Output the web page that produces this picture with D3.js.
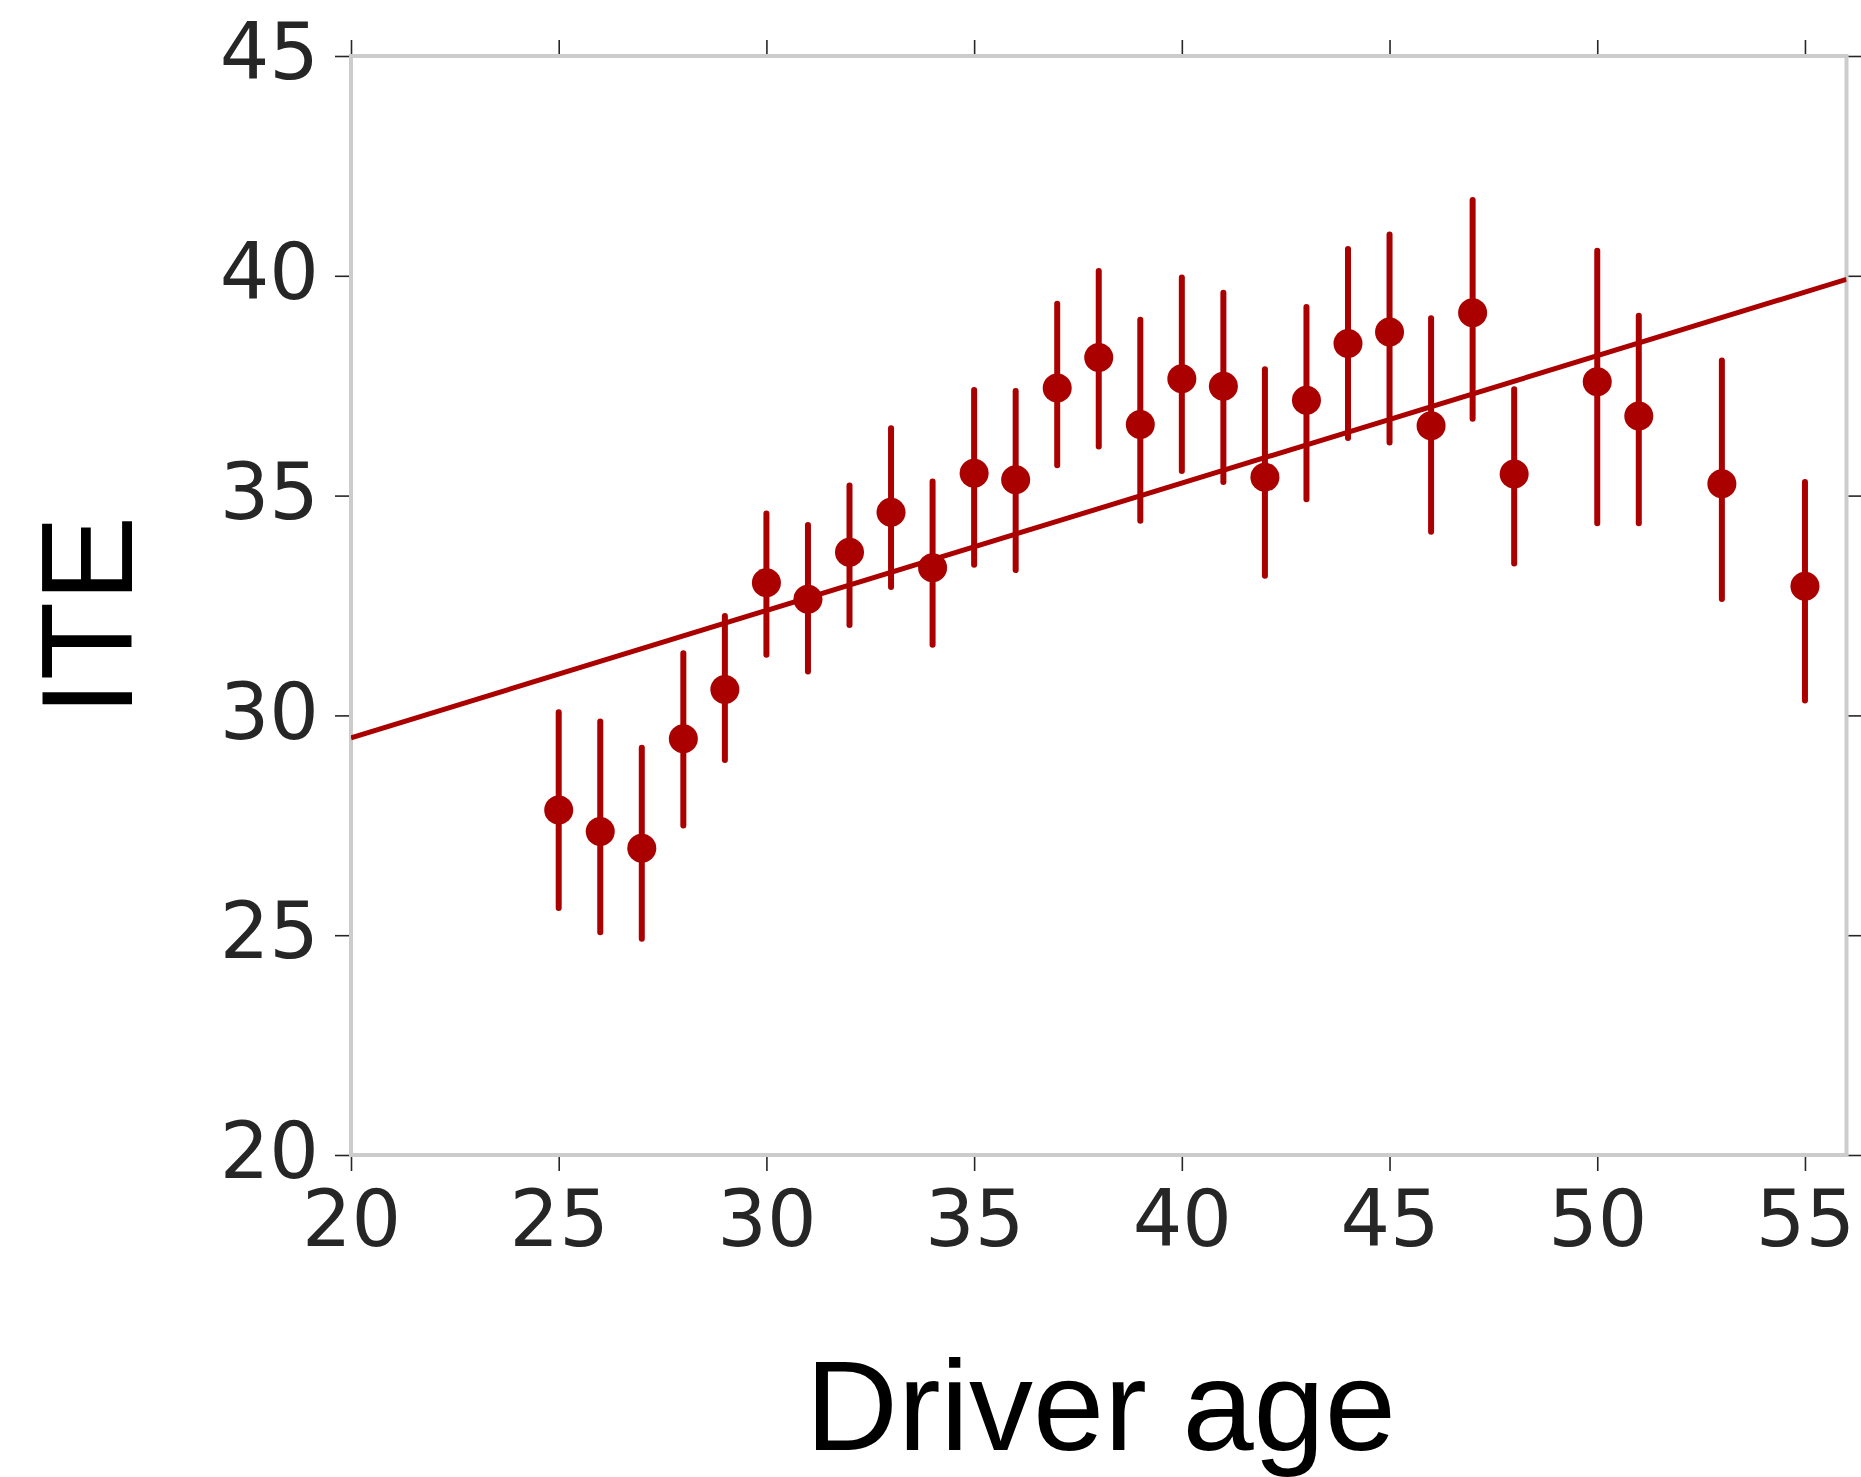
<!DOCTYPE html>
<html>
<head>
<meta charset="utf-8">
<script src="https://cdn.jsdelivr.net/npm/d3@7"></script>
<style>
  html, body { margin: 0; padding: 0; background: #ffffff; }
  svg { display: block; }
</style>
</head>
<body>
<svg id="chart" width="1861" height="1477"></svg>
<script>
// ---- data ----
const ages  = [25, 26, 27, 28, 29, 30, 31, 32, 33, 34, 35, 36, 37, 38, 39, 40, 41, 42, 43, 44, 45, 46, 47, 48, 50, 51, 53, 55];
const ite   = [27.85, 27.36, 26.98, 29.47, 30.59, 33.02, 32.64, 33.71, 34.62, 33.36, 35.51, 35.36, 37.45, 38.14, 36.62, 37.66, 37.49, 35.42, 37.17, 38.46, 38.72, 36.59, 39.16, 35.49, 37.59, 36.81, 35.27, 32.94];
const lower = [25.55, 25.00, 24.85, 27.43, 28.92, 31.31, 30.93, 31.99, 32.85, 31.54, 33.36, 33.24, 35.62, 36.05, 34.36, 35.49, 35.24, 33.11, 34.85, 36.24, 36.14, 34.11, 36.68, 33.39, 34.30, 34.30, 32.58, 30.27];
const upper = [30.14, 29.93, 29.33, 31.48, 32.33, 34.66, 34.40, 35.30, 36.60, 35.39, 37.47, 37.45, 39.43, 40.18, 39.07, 40.03, 39.68, 37.94, 39.36, 40.68, 41.01, 39.10, 41.79, 37.49, 40.64, 39.16, 38.14, 35.38];
const fitX  = [20, 56];
const fitY  = [29.49, 39.92];
const xTicks = [20, 25, 30, 35, 40, 45, 50, 55];
const yTicks = [20, 25, 30, 35, 40, 45];
const xLabel = "Driver age";
const yLabel = "ITE";

(function () {
  // ---- layout ----
  const pL = 351, pR = 1846.5, pT = 56, pB = 1155;
  const red = "#aa0000";
  const tickColor = "#262626";

  const svg = d3.select("#chart");

  const x = d3.scaleLinear().domain([20, 56]).range([pL, pR]);
  const y = d3.scaleLinear().domain([20, 45]).range([pB, pT]);

  svg.append("defs").append("clipPath").attr("id", "plotclip")
    .append("rect").attr("x", pL).attr("y", pT)
    .attr("width", pR - pL).attr("height", pB - pT);

  // frame
  svg.append("rect")
    .attr("x", pL).attr("y", pT)
    .attr("width", pR - pL).attr("height", pB - pT)
    .attr("fill", "none").attr("stroke", "#cccccc").attr("stroke-width", 4);

  function styleAxis(g) {
    g.select(".domain").remove();
    g.selectAll(".tick line").attr("stroke", tickColor).attr("stroke-width", 1.6);
    g.selectAll(".tick text")
      .attr("fill", tickColor)
      .style("font-family", "'DejaVu Sans', sans-serif")
      .style("font-size", "78px");
  }

  svg.append("g")
    .attr("transform", `translate(0,${pB + 2})`)
    .call(d3.axisBottom(x).tickValues(xTicks).tickSize(14).tickPadding(20).tickFormat(d3.format("d")))
    .call(styleAxis);

  svg.append("g")
    .attr("transform", `translate(0,${pT - 2})`)
    .call(d3.axisTop(x).tickValues(xTicks).tickSize(14).tickFormat(""))
    .call(styleAxis);

  const gl = svg.append("g")
    .attr("transform", `translate(${pL - 2},0)`)
    .call(d3.axisLeft(y).tickValues(yTicks).tickSize(14).tickPadding(16).tickFormat(d3.format("d")))
    .call(styleAxis);
  gl.selectAll(".tick text").attr("dy", "0.29em");

  svg.append("g")
    .attr("transform", `translate(${pR + 2},0)`)
    .call(d3.axisRight(y).tickValues(yTicks).tickSize(14).tickFormat(""))
    .call(styleAxis);

  const plot = svg.append("g").attr("clip-path", "url(#plotclip)");

  // regression line
  const line = d3.line().x(d => x(d[0])).y(d => y(d[1]));
  plot.append("path")
    .datum(fitX.map((v, i) => [v, fitY[i]]))
    .attr("d", line)
    .attr("fill", "none")
    .attr("stroke", red)
    .attr("stroke-width", 5);

  const pts = ages.map((a, i) => ({ age: a, v: ite[i], lo: lower[i], hi: upper[i] }));

  // error bars
  plot.selectAll("line.err")
    .data(pts).enter().append("line")
    .attr("class", "err")
    .attr("x1", d => x(d.age)).attr("x2", d => x(d.age))
    .attr("y1", d => y(d.lo) - 3).attr("y2", d => y(d.hi) + 3)
    .attr("stroke", red)
    .attr("stroke-width", 6)
    .attr("stroke-linecap", "round");

  // markers
  plot.selectAll("circle.pt")
    .data(pts).enter().append("circle")
    .attr("class", "pt")
    .attr("cx", d => x(d.age)).attr("cy", d => y(d.v))
    .attr("r", 14.5)
    .attr("fill", red);

  // axis titles
  svg.append("text")
    .attr("x", (pL + pR) / 2 + 2)
    .attr("y", 1450)
    .attr("text-anchor", "middle")
    .style("font-family", "'Liberation Sans', Arial, sans-serif")
    .style("font-size", "128px")
    .attr("fill", "#000000")
    .text(xLabel);

  svg.append("text")
    .attr("transform", "translate(132,616) rotate(-90)")
    .attr("text-anchor", "middle")
    .style("font-family", "'Liberation Sans', Arial, sans-serif")
    .style("font-size", "129px")
    .attr("fill", "#000000")
    .text(yLabel);
})();
</script>
</body>
</html>
